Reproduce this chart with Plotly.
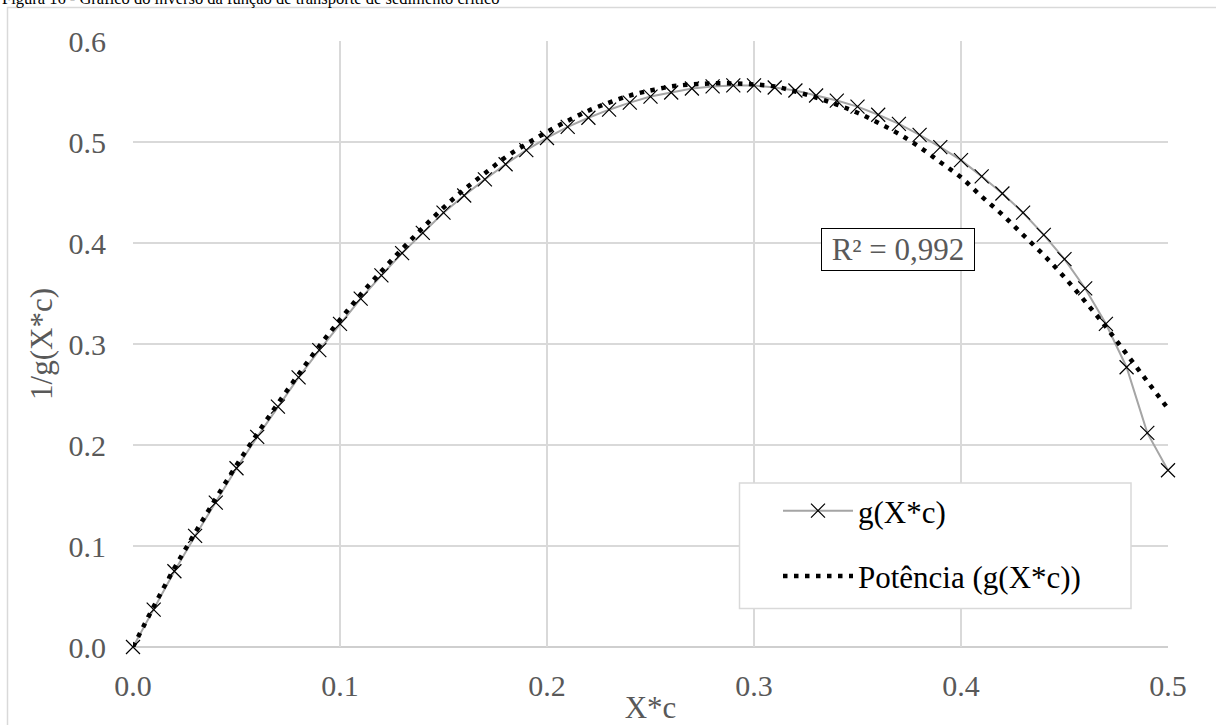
import plotly.graph_objects as go

# ---- data ----
x_vals = [0.00, 0.01, 0.02, 0.03, 0.04, 0.05, 0.06, 0.07, 0.08, 0.09,
          0.10, 0.11, 0.12, 0.13, 0.14, 0.15, 0.16, 0.17, 0.18, 0.19,
          0.20, 0.21, 0.22, 0.23, 0.24, 0.25, 0.26, 0.27, 0.28, 0.29,
          0.30, 0.31, 0.32, 0.33, 0.34, 0.35, 0.36, 0.37, 0.38, 0.39,
          0.40, 0.41, 0.42, 0.43, 0.44, 0.45, 0.46, 0.47, 0.48, 0.49, 0.50]

g_vals = [0.000, 0.037, 0.075, 0.110, 0.143, 0.177, 0.208, 0.238, 0.267, 0.294,
          0.320, 0.345, 0.368, 0.390, 0.410, 0.430, 0.447, 0.463, 0.478, 0.492,
          0.504, 0.515, 0.524, 0.532, 0.539, 0.545, 0.549, 0.553, 0.555, 0.556,
          0.556, 0.554, 0.551, 0.546, 0.541, 0.535, 0.527, 0.518, 0.507, 0.495,
          0.482, 0.466, 0.449, 0.430, 0.408, 0.384, 0.355, 0.320, 0.277, 0.212, 0.175]

trend_vals = [0.000, 0.040, 0.078, 0.113, 0.147, 0.180, 0.211, 0.241, 0.270, 0.298,
              0.324, 0.349, 0.372, 0.394, 0.415, 0.435, 0.453, 0.469, 0.485, 0.498,
              0.510, 0.521, 0.531, 0.539, 0.546, 0.551, 0.555, 0.557, 0.558, 0.558,
              0.557, 0.555, 0.550, 0.544, 0.537, 0.529, 0.519, 0.508, 0.495, 0.480,
              0.465, 0.446, 0.428, 0.408, 0.388, 0.366, 0.342, 0.317, 0.290, 0.263, 0.236]

series_names = ["g(X*c)", "Potência (g(X*c))"]
r2_text = "R² = 0,992"
title_text = "Figura 16 - Gráfico do inverso da função de transporte de sedimento crítico"
x_title = "X*c"
y_title = "1/g(X*c)"

FONT = "Liberation Serif, Times New Roman, serif"
GRAY = "#595959"
GRID = "#d9d9d9"

W, H = 1216, 725
L, R, T, B = 133, 48, 41, 78
PW, PH = W - L - R, H - T - B


def px_x(p):
    return (p - L) / PW


def px_y(p):
    return (H - B - p) / PH


fig = go.Figure()

fig.add_trace(go.Scatter(
    x=x_vals, y=g_vals, name=series_names[0], mode="lines+markers",
    line=dict(color="#a5a5a5", width=2),
    marker=dict(symbol="x-thin", size=14, color="black",
                line=dict(color="black", width=1.2)),
    cliponaxis=False, legendgroup="a",
))

fig.add_trace(go.Scatter(
    x=x_vals, y=trend_vals, name=series_names[1], mode="lines",
    line=dict(color="black", width=4.5, dash="4.5px,6.5px", shape="spline"),
    cliponaxis=False, legendgroup="b",
))

fig.update_layout(
    width=W, height=H,
    margin=dict(l=L, r=R, t=T, b=B, autoexpand=False),
    paper_bgcolor="white", plot_bgcolor="white",
    font=dict(family=FONT, size=30, color=GRAY),
    showlegend=True,
    legend=dict(
        x=px_x(778), y=px_y(484), xanchor="left", yanchor="top",
        bgcolor="rgba(0,0,0,0)", borderwidth=0,
        font=dict(family=FONT, size=31, color="black"),
        itemwidth=70, traceorder="grouped", tracegroupgap=22,
    ),
    xaxis=dict(
        range=[0, 0.5], dtick=0.1, tick0=0, tickformat=".1f",
        showgrid=True, gridcolor=GRID, gridwidth=1.5,
        zeroline=False, showline=False, automargin=False,
        ticks="", ticklabelstandoff=18,
        tickfont=dict(family=FONT, size=30, color=GRAY),
        title=dict(text=x_title, font=dict(family=FONT, size=31, color=GRAY), standoff=4),
    ),
    yaxis=dict(
        range=[0, 0.6], dtick=0.1, tick0=0, tickformat=".1f",
        showgrid=True, gridcolor=GRID, gridwidth=1.5,
        zeroline=False, showline=False, automargin=False,
        ticks="", ticklabelstandoff=26,
        tickfont=dict(family=FONT, size=30, color=GRAY),
        title=dict(text=y_title, font=dict(family=FONT, size=31, color=GRAY), standoff=6),
    ),
)

# x axis line (slightly darker)
fig.add_shape(type="line", xref="paper", yref="paper", x0=0, x1=1, y0=0, y1=0,
              line=dict(color="#bfbfbf", width=1.5), layer="between")

# outer chart border
fig.add_shape(type="rect", xref="paper", yref="paper",
              x0=px_x(7.5), x1=px_x(1225), y0=px_y(735), y1=px_y(7.5),
              line=dict(color=GRID, width=1.5), fillcolor="rgba(0,0,0,0)", layer="above")

# legend box
fig.add_shape(type="rect", xref="paper", yref="paper",
              x0=px_x(739.5), x1=px_x(1131), y0=px_y(608.5), y1=px_y(483),
              line=dict(color=GRID, width=1.5), fillcolor="white", layer="above")

# R^2 label
fig.add_annotation(
    x=px_x(897.7), y=px_y(249.8), xref="paper", yref="paper",
    text=r2_text, showarrow=False, xanchor="center", yanchor="middle",
    font=dict(family=FONT, size=31, color=GRAY),
    bordercolor="black", borderwidth=1, borderpad=3, bgcolor="white", width=146,
)

# figure caption (partly cut off at top, as in the source document)
fig.add_annotation(
    x=px_x(0), y=px_y(-2), xref="paper", yref="paper",
    text=title_text, showarrow=False, xanchor="left", yanchor="middle",
    font=dict(family=FONT, size=16.5, color="black"),
)

fig.write_html("out.html")
